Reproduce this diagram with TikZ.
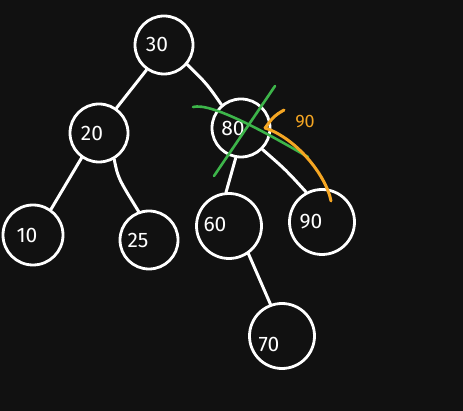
\documentclass[tikz,border=0pt]{standalone}
\usepackage{fontspec}
\setmainfont{Fira Sans}
\usetikzlibrary{arrows.meta}

\definecolor{board}{HTML}{111111}
\definecolor{chalkgreen}{HTML}{3DB54A}
\definecolor{chalkorange}{HTML}{F5A623}

\begin{document}
\begin{tikzpicture}[x=1pt,y=-1pt,
    treenode/.style={draw=white,circle,line width=2.8pt,inner sep=0pt},
    keytext/.style={text=white,font=\fontsize{21}{24}\selectfont},
    treeedge/.style={draw=white,line width=3pt,line cap=round},
    strike/.style={draw=chalkgreen,line width=2.6pt,line cap=round},
    moveup/.style={draw=chalkorange,line width=3pt,line cap=round}]
        %set diagram to the size of the board
        \fill[board] (0,0) rectangle (463,411);
        \useasboundingbox (0,0) rectangle (463,411);

        % Tree nodes
        \node[treenode,minimum size=58pt,label={[keytext,xshift=-7pt]center:30}] (n30) at (164,45) {};
        \node[treenode,minimum size=58pt,label={[keytext,xshift=-7pt]center:20}] (n20) at (99,133) {};
        \node[treenode,minimum size=58pt,label={[keytext,xshift=-8pt]center:80}] (n80) at (241,128) {};
        \node[treenode,minimum size=60pt,label={[keytext,xshift=-6pt]center:10}] (n10) at (33,235) {};
        \node[treenode,minimum size=58pt,label={[keytext,xshift=-11pt]center:25}] (n25) at (149,240) {};
        \node[treenode,minimum size=65pt,label={[keytext,xshift=-14pt,yshift=2pt]center:60}] (n60) at (229,226) {};
        \node[treenode,minimum size=65pt,label={[keytext,xshift=-11pt]center:90}] (n90) at (322,222) {};
        \node[treenode,minimum size=65pt,label={[keytext,xshift=-13pt,yshift=-8pt]center:70}] (n70) at (282,336) {};

        % Edges
        \draw[treeedge] (n30.235) -- (n20.55);
        \draw[treeedge] (n30.-40) .. controls (207,84) .. (n80.130);
        \draw[treeedge] (n20.235) -- (n10.55);
        \draw[treeedge] (n20.-60) .. controls (118,178) .. (n25.110);
        \draw[treeedge] (n80.-100) -- (n60.95);
        \draw[treeedge] (n80.-45) .. controls (286,170) .. (n90.118);
        \draw[treeedge] (n60.-55) -- (n70.110);

        % Cross over 80
        \coordinate (ca) at (193,107);
        \coordinate (cb) at (308,157);
        \coordinate (cc) at (275,86);
        \coordinate (cd) at (214,176);
        \draw[strike] (ca) .. controls (212,102) and (270,135) .. (cb);
        \draw[strike] (cc) -- (cd);

        % 90 moved up
        \coordinate (start) at (331,201);
        \coordinate (tip) at (265,128);
        \coordinate (flick) at (284,110);
        \draw[moveup] (start) .. controls (326,175) and (296,138) .. (tip);
        \draw[moveup] (flick) .. controls (274,116) .. (tip);
        \node[text=chalkorange,font=\fontsize{18}{22}\selectfont] (lbl90) at (305,122) {90};
\end{tikzpicture}
\end{document}
